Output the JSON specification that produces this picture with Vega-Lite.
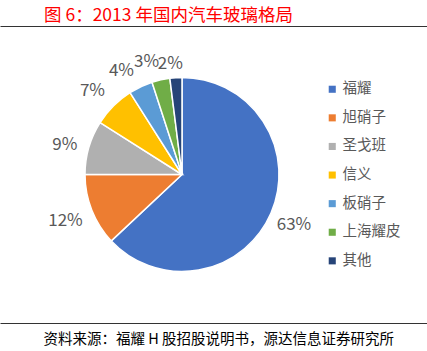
{
  "$schema": "https://vega.github.io/schema/vega-lite/v6.json",
  "width": 427,
  "height": 297,
  "autosize": {"type": "none"},
  "padding": {"top": 26, "left": 0, "right": 0, "bottom": 28},
  "background": "white",
  "title": {
    "text": "图 6：2013 年国内汽车玻璃格局",
    "anchor": "start",
    "dx": 44,
    "offset": 2,
    "color": "#FF0000",
    "font": "Noto Sans CJK SC",
    "fontSize": 17.5,
    "fontWeight": "normal"
  },
  "data": {
    "values": [
      {"company": "福耀", "share": 63, "label": "63%", "rank": 1},
      {"company": "旭硝子", "share": 12, "label": "12%", "rank": 2},
      {"company": "圣戈班", "share": 9, "label": "9%", "rank": 3},
      {"company": "信义", "share": 7, "label": "7%", "rank": 4},
      {"company": "板硝子", "share": 4, "label": "4%", "rank": 5},
      {"company": "上海耀皮", "share": 3, "label": "3%", "rank": 6},
      {"company": "其他", "share": 2, "label": "2%", "rank": 7}
    ]
  },
  "layer": [
    {
      "mark": {"type": "arc", "outerRadius": 97, "stroke": "white", "strokeWidth": 1.5},
      "encoding": {
        "theta": {"field": "share", "type": "quantitative", "stack": true},
        "order": {"field": "rank", "type": "quantitative"},
        "color": {
          "field": "company",
          "type": "nominal",
          "sort": ["福耀", "旭硝子", "圣戈班", "信义", "板硝子", "上海耀皮", "其他"],
          "scale": {
            "domain": ["福耀", "旭硝子", "圣戈班", "信义", "板硝子", "上海耀皮", "其他"],
            "range": ["#4472C4", "#ED7D31", "#B0B0B0", "#FFC000", "#5B9BD5", "#70AD47", "#264478"]
          },
          "legend": {
            "orient": "none",
            "legendX": 325,
            "legendY": 56,
            "title": null,
            "padding": 0,
            "symbolType": "square",
            "symbolSize": 50,
            "symbolStrokeWidth": 0,
            "labelFont": "Noto Sans CJK SC",
            "labelFontSize": 14.5,
            "labelColor": "#595959",
            "labelOffset": 3,
            "rowPadding": 13.6
          }
        },
        "x": {
          "datum": 182,
          "type": "quantitative",
          "scale": {"domain": [0, 427], "nice": false, "zero": false},
          "axis": {
            "orient": "bottom",
            "domain": true,
            "domainColor": "#333333",
            "domainWidth": 1,
            "ticks": false,
            "labels": false,
            "grid": false,
            "title": "资料来源：福耀 H 股招股说明书，源达信息证券研究所",
            "titleFont": "Noto Sans CJK SC",
            "titleFontSize": 14.5,
            "titleFontWeight": "normal",
            "titleColor": "#000000",
            "titleAnchor": "start",
            "titleAlign": "left",
            "titleX": 43,
            "titlePadding": 9
          }
        }
      }
    },
    {
      "mark": {"type": "text", "radius": 122, "dy": 2.5, "font": "Noto Sans CJK SC", "fontSize": 17, "color": "#595959"},
      "encoding": {
        "theta": {"field": "share", "type": "quantitative", "stack": true},
        "order": {"field": "rank", "type": "quantitative"},
        "text": {"condition": {"test": "datum.rank == 1", "field": "label"}, "value": ""},
        "x": {
          "datum": 182,
          "type": "quantitative",
          "scale": {"domain": [0, 427], "nice": false, "zero": false},
          "axis": {
            "orient": "top",
            "domain": true,
            "domainColor": "#333333",
            "domainWidth": 1,
            "ticks": false,
            "labels": false,
            "grid": false,
            "title": null
          }
        }
      }
    },
    {
      "mark": {"type": "text", "radius": 122, "dy": 4.5, "font": "Noto Sans CJK SC", "fontSize": 17, "color": "#595959"},
      "encoding": {
        "theta": {"field": "share", "type": "quantitative", "stack": true},
        "order": {"field": "rank", "type": "quantitative"},
        "text": {"condition": {"test": "datum.rank == 3", "field": "label"}, "value": ""},
        "x": {"datum": 182, "type": "quantitative", "scale": {"domain": [0, 427], "nice": false, "zero": false}, "axis": null}
      }
    },
    {
      "mark": {"type": "text", "radius": 121, "dx": -4, "dy": 2, "font": "Noto Sans CJK SC", "fontSize": 17, "color": "#595959"},
      "encoding": {
        "theta": {"field": "share", "type": "quantitative", "stack": true},
        "order": {"field": "rank", "type": "quantitative"},
        "text": {"condition": {"test": "datum.rank == 2 || datum.rank == 4", "field": "label"}, "value": ""},
        "x": {"datum": 182, "type": "quantitative", "scale": {"domain": [0, 427], "nice": false, "zero": false}, "axis": null}
      }
    },
    {
      "mark": {"type": "text", "radius": 121, "dx": -9, "dy": 6, "font": "Noto Sans CJK SC", "fontSize": 17, "color": "#595959"},
      "encoding": {
        "theta": {"field": "share", "type": "quantitative", "stack": true},
        "order": {"field": "rank", "type": "quantitative"},
        "text": {"condition": {"test": "datum.rank == 5 || datum.rank == 6", "field": "label"}, "value": ""},
        "x": {"datum": 182, "type": "quantitative", "scale": {"domain": [0, 427], "nice": false, "zero": false}, "axis": null}
      }
    },
    {
      "mark": {"type": "text", "radius": 121, "dx": -4, "dy": 10, "font": "Noto Sans CJK SC", "fontSize": 17, "color": "#595959"},
      "encoding": {
        "theta": {"field": "share", "type": "quantitative", "stack": true},
        "order": {"field": "rank", "type": "quantitative"},
        "text": {"condition": {"test": "datum.rank == 7", "field": "label"}, "value": ""},
        "x": {"datum": 182, "type": "quantitative", "scale": {"domain": [0, 427], "nice": false, "zero": false}, "axis": null}
      }
    }
  ],
  "resolve": {"scale": {"x": "independent"}, "axis": {"x": "independent"}},
  "config": {"view": {"stroke": null}}
}
